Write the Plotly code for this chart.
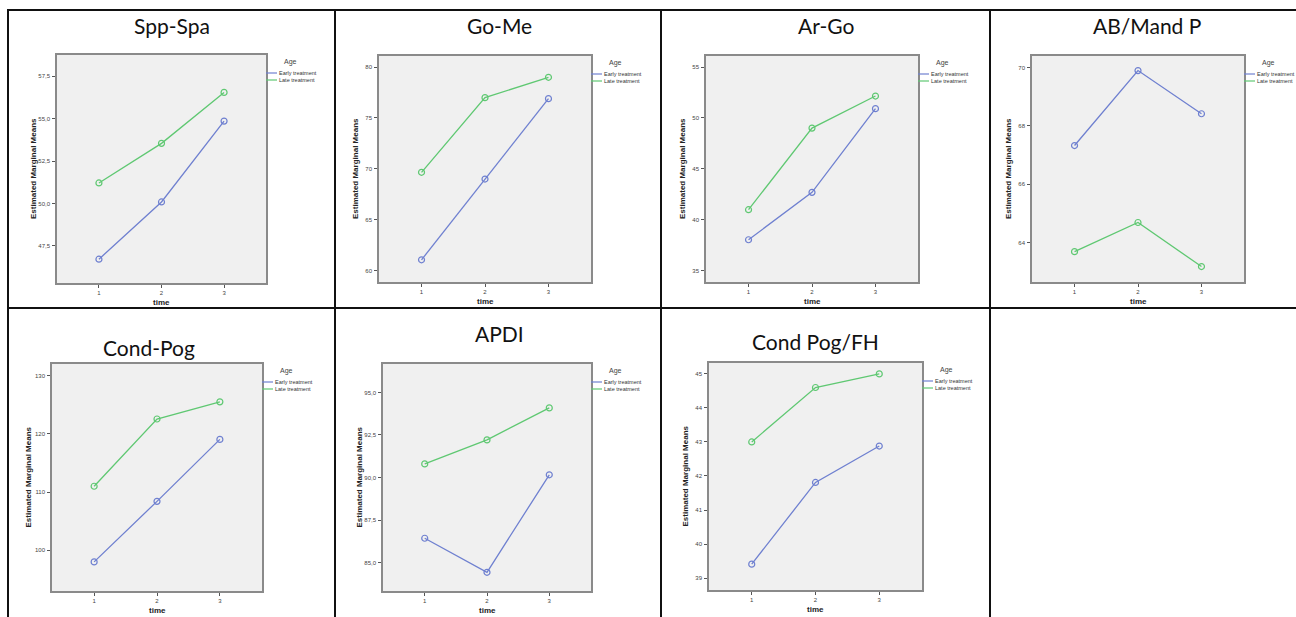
import plotly.graph_objects as go

W, H = 1296, 617

time_points = [1, 2, 3]
series_names = ["Early treatment", "Late treatment"]
legend_title = "Age"
panel_titles = ["Spp-Spa", "Go-Me", "Ar-Go", "AB/Mand P", "Cond-Pog", "APDI", "Cond Pog/FH"]

spp_spa_early = [46.72, 50.09, 54.85]
spp_spa_late = [51.21, 53.54, 56.54]
go_me_early = [61.07, 69.00, 76.89]
go_me_late = [69.66, 76.99, 78.99]
ar_go_early = [38.04, 42.69, 50.91]
ar_go_late = [40.99, 49.00, 52.15]
ab_mand_early = [67.33, 69.90, 68.42]
ab_mand_late = [63.69, 64.69, 63.18]
cond_pog_early = [98.00, 108.40, 119.05]
cond_pog_late = [111.00, 122.55, 125.50]
apdi_early = [86.43, 84.43, 90.16]
apdi_late = [90.80, 92.21, 94.09]
cond_pog_fh_early = [39.41, 41.81, 42.88]
cond_pog_fh_late = [43.00, 44.60, 45.00]

spp_spa_ticks = [47.5, 50.0, 52.5, 55.0, 57.5]
go_me_ticks = [60, 65, 70, 75, 80]
ar_go_ticks = [35, 40, 45, 50, 55]
ab_mand_ticks = [64, 66, 68, 70]
cond_pog_ticks = [100, 110, 120, 130]
apdi_ticks = [85.0, 87.5, 90.0, 92.5, 95.0]
cond_pog_fh_ticks = [39, 40, 41, 42, 43, 44, 45]

early_values = [spp_spa_early, go_me_early, ar_go_early, ab_mand_early,
                cond_pog_early, apdi_early, cond_pog_fh_early]
late_values = [spp_spa_late, go_me_late, ar_go_late, ab_mand_late,
               cond_pog_late, apdi_late, cond_pog_fh_late]
tick_values = [spp_spa_ticks, go_me_ticks, ar_go_ticks, ab_mand_ticks,
               cond_pog_ticks, apdi_ticks, cond_pog_fh_ticks]
decimal_ticks = [True, False, False, False, False, True, False]

# layout (pixels): plot box left, right, top, bottom ; y range ; title centre
boxes = [
    (57, 266, 55, 283), (379, 591, 56, 282), (706, 918, 56, 282), (1032, 1244, 56, 282),
    (52, 262, 364, 591), (383, 591, 364, 591), (709, 922, 363, 590),
]
y_ranges = [(45.32, 58.74), (58.89, 81.08), (33.89, 56.08), (62.65, 70.40),
            (93.0, 132.0), (83.33, 96.67), (38.65, 45.32)]
title_pos = [(172, 25), (499, 25), (826, 25), (1147, 25), (149, 348), (499, 333), (815, 341)]

early_color = "#6f80d0"
late_color = "#5fc872"

fig = go.Figure()
annotations = []
shapes = []

def px_x(x):
    return x / W

def px_y(y):
    return 1 - y / H

for i in range(7):
    n = "" if i == 0 else str(i + 1)
    xa, ya = "x" + n, "y" + n
    l, r, t, b = boxes[i]
    for vals, name, col in [(early_values[i], series_names[0], early_color),
                            (late_values[i], series_names[1], late_color)]:
        fig.add_trace(go.Scatter(
            x=time_points, y=vals, mode="lines+markers", name=name,
            xaxis=xa, yaxis=ya, showlegend=False,
            line=dict(color=col, width=1.3),
            marker=dict(symbol="circle-open", size=6, color=col, line=dict(width=1.2, color=col)),
        ))
    tv = tick_values[i]
    tt = [(f"{v:.1f}".replace(".", ",") if decimal_ticks[i] else f"{v:g}") for v in tv]
    axis_common = dict(showline=True, mirror=True, linecolor="#8a8a8a", linewidth=1.5,
                       showgrid=False, zeroline=False, ticks="outside", ticklen=3,
                       tickcolor="#555555", tickwidth=1,
                       tickfont=dict(family="Liberation Sans", size=6, color="#444444"))
    fig.update_layout(**{
        ("xaxis" + n): dict(domain=[px_x(l), px_x(r)], range=[0.33, 3.67], anchor=ya,
                            tickvals=time_points, ticktext=[str(v) for v in time_points],
                            **axis_common),
        ("yaxis" + n): dict(domain=[px_y(b), px_y(t)], range=list(y_ranges[i]), anchor=xa,
                            tickvals=tv, ticktext=tt, ticklabelstandoff=1, **axis_common),
    })
    # panel title
    tx, ty = title_pos[i]
    annotations.append(dict(text=panel_titles[i], x=px_x(tx), y=px_y(ty), xref="paper", yref="paper",
                            showarrow=False, xanchor="center", yanchor="middle",
                            font=dict(family="Lato", size=21, color="#111111")))
    # axis titles
    annotations.append(dict(text="<b>Estimated Marginal Means</b>", x=px_x(l - 24), y=px_y((t + b) / 2),
                            xref="paper", yref="paper", showarrow=False, textangle=-90,
                            xanchor="center", yanchor="middle",
                            font=dict(family="Liberation Sans", size=8, color="#222222")))
    annotations.append(dict(text="<b>time</b>", x=px_x((l + r) / 2), y=px_y(b + 19),
                            xref="paper", yref="paper", showarrow=False,
                            xanchor="center", yanchor="middle",
                            font=dict(family="Liberation Sans", size=8, color="#222222")))
    # legend
    annotations.append(dict(text=legend_title, x=px_x(r + 24), y=px_y(t + 7), xref="paper", yref="paper",
                            showarrow=False, xanchor="center", yanchor="middle",
                            font=dict(family="Liberation Sans", size=7, color="#444444")))
    for k, (name, col) in enumerate([(series_names[0], early_color), (series_names[1], late_color)]):
        yy = t + 18 + 7 * k
        shapes.append(dict(type="line", xref="paper", yref="paper",
                           x0=px_x(r), x1=px_x(r + 11), y0=px_y(yy), y1=px_y(yy),
                           line=dict(color=col, width=1.2)))
        annotations.append(dict(text=name, x=px_x(r + 11), y=px_y(yy), xref="paper", yref="paper",
                                showarrow=False, xanchor="left", yanchor="middle",
                                font=dict(family="Liberation Sans", size=5.5, color="#333333")))

# table cell borders
for yline in [10, 308]:
    shapes.append(dict(type="line", xref="paper", yref="paper", x0=px_x(7), x1=1,
                       y0=px_y(yline), y1=px_y(yline), line=dict(color="#111111", width=2)))
for xline in [8, 335, 661, 990]:
    shapes.append(dict(type="line", xref="paper", yref="paper", x0=px_x(xline), x1=px_x(xline),
                       y0=px_y(9), y1=0, line=dict(color="#111111", width=2)))

fig.update_layout(
    width=W, height=H, margin=dict(l=0, r=0, t=0, b=0),
    paper_bgcolor="white", plot_bgcolor="#f0f0f0",
    showlegend=False, annotations=annotations, shapes=shapes,
)

fig.write_html("out.html", config={"displayModeBar": False},
               post_script="document.body.style.margin='0';document.body.style.overflow='hidden';")
